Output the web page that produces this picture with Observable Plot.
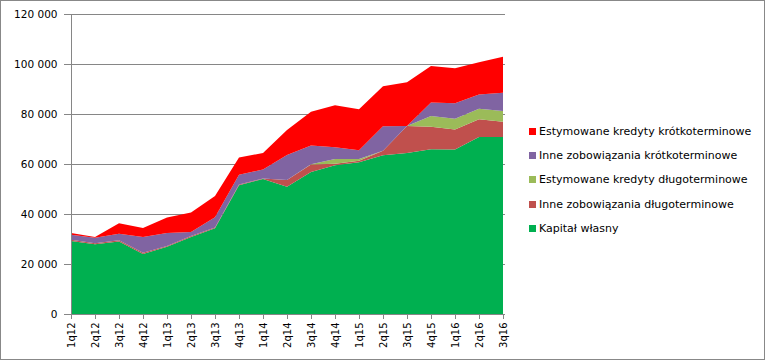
<!DOCTYPE html>
<html>
<head>
<meta charset="utf-8">
<script src="https://cdn.jsdelivr.net/npm/d3@7"></script>
<script src="https://cdn.jsdelivr.net/npm/@observablehq/plot@0.6"></script>
<style>
  body { margin: 0; background: #fff; }
  #wrap { position: relative; width: 765px; height: 360px; font-family: "DejaVu Sans", sans-serif; }
  #border { position: absolute; left: 0; top: 0; width: 765px; height: 360px; box-sizing: border-box; border: 1px solid #888; pointer-events: none; }
  #legend { position: absolute; left: 529px; top: 119px; font-size: 11px; color: #000; }
  #legend .item { display: flex; align-items: center; height: 24.3px; white-space: nowrap; }
  #legend .sw { width: 7px; height: 7px; margin-right: 3px; flex: none; }
</style>
</head>
<body>
<div id="wrap"><div id="chart"></div><div id="legend"></div><div id="border"></div></div>
<script>
const quarters = ["1q12","2q12","3q12","4q12","1q13","2q13","3q13","4q13","1q14","2q14","3q14","4q14","1q15","2q15","3q15","4q15","1q16","2q16","3q16"];
const kapitalWlasny      = [29200,27900,29000,24000,26900,30800,34300,51500,54000,50900,56800,59500,60700,63500,64400,65900,65800,70800,70800];
const inneDlugo          = [500,400,500,500,300,400,300,300,200,2700,3000,600,600,1800,10800,9000,8000,7100,6100];
const estymowaneDlugo    = [0,0,0,0,0,0,0,0,0,0,100,1900,700,0,0,4300,4300,4200,4300];
const inneKrotko         = [2000,2200,2600,6300,5200,1600,4100,3900,3600,10000,7500,4700,3500,9800,0,5400,6200,5700,7300];
const estymowaneKrotko   = [700,300,4200,3600,6200,7800,8500,6900,6600,10000,13500,16800,16400,16000,17500,14600,14000,12900,14400];

const seriesNames = ["Kapitał własny","Inne zobowiązania długoterminowe","Estymowane kredyty długoterminowe","Inne zobowiązania krótkoterminowe","Estymowane kredyty krótkoterminowe"];
const seriesValues = [kapitalWlasny, inneDlugo, estymowaneDlugo, inneKrotko, estymowaneKrotko];
const colors = ["#00B050","#C0504D","#9BBB59","#8064A2","#FF0000"];
const yTicks = [0,20000,40000,60000,80000,100000,120000];

const data = [];
seriesNames.forEach((s, i) => quarters.forEach((q, j) => data.push({q, s, v: seriesValues[i][j]})));

const fmt = d => d3.format(",")(d).replace(/,/g, " ");

const chart = Plot.plot({
  width: 765, height: 360,
  marginLeft: 69, marginRight: 260, marginTop: 14, marginBottom: 46,
  style: { fontFamily: "DejaVu Sans, sans-serif", fontSize: "10px", color: "#000", background: "transparent" },
  x: { type: "point", domain: quarters, padding: 0 },
  y: { domain: [0, 120000] },
  color: { domain: seriesNames, range: colors },
  marks: [
    Plot.gridY(yTicks, { stroke: "#868686", strokeOpacity: 1 }),
    Plot.areaY(data, Plot.stackY({ x: "q", y: "v", z: "s", fill: "s", order: seriesNames, fillOpacity: 1 })),
    Plot.ruleX([quarters[0]], { stroke: "#868686" }),
    Plot.ruleY([0], { stroke: "#868686" }),
    Plot.axisY(yTicks, { tickFormat: fmt, tickSize: 5, tickPadding: 7, stroke: "#868686", fill: "#000", label: null, fontSize: 10.5 }),
    Plot.axisX({ tickRotate: -90, tickSize: 5, tickPadding: 3, stroke: "#868686", fill: "#000", label: null, fontSize: 10 })
  ]
});
document.getElementById("chart").appendChild(chart);

const legend = document.getElementById("legend");
seriesNames.map((s, i) => ({s, c: colors[i]})).reverse().forEach(({s, c}) => {
  const item = document.createElement("div");
  item.className = "item";
  item.innerHTML = `<span class="sw" style="background:${c}"></span><span>${s}</span>`;
  legend.appendChild(item);
});
</script>
</body>
</html>
